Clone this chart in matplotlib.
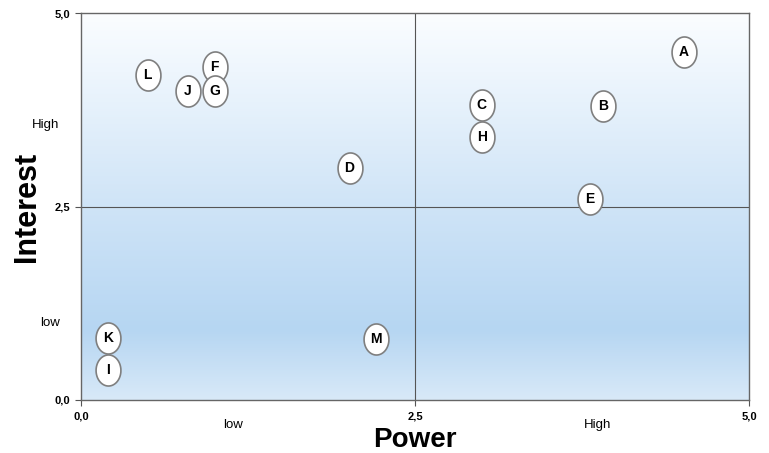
import numpy as np
import matplotlib
matplotlib.use("Agg")
import matplotlib.pyplot as plt
from matplotlib.colors import LinearSegmentedColormap

plt.rcParams["font.family"] = ["Liberation Sans", "DejaVu Sans"]

# stakeholder positions (power, interest)
labels = ["A", "B", "C", "H", "D", "E", "F", "G", "J", "L", "K", "I", "M"]
power = [4.51, 3.91, 3.00, 3.00, 2.01, 3.81, 1.00, 1.00, 0.80, 0.50, 0.20, 0.20, 2.21]
interest = [4.50, 3.80, 3.81, 3.40, 3.00, 2.60, 4.30, 4.00, 4.00, 4.20, 0.80, 0.39, 0.79]

tick_vals = [0.0, 2.5, 5.0]
tick_text = ["0,0", "2,5", "5,0"]
x_words = [(1.14, "low"), (3.87, "High")]
y_words = [(3.55, "High"), (1.0, "low")]


def main():
    fig = plt.figure(figsize=(7.69, 4.53), dpi=100)
    ax = fig.add_axes([0.1053, 0.117, 0.8687, 0.854])

    # background gradient, white on top to light blue near the bottom
    cmap = LinearSegmentedColormap.from_list(
        "bg", [(0.0, "#d8e9f8"), (0.18, "#b6d6f2"), (0.5, "#cfe4f7"),
               (0.85, "#eef6fd"), (1.0, "#fbfdff")])
    grad = np.linspace(0, 1, 256).reshape(-1, 1)
    ax.imshow(grad, extent=[0, 5, 0, 5], origin="lower", aspect="auto",
              cmap=cmap, zorder=0)

    ax.axvline(2.5, color="#555555", lw=0.8, zorder=1)
    ax.axhline(2.5, color="#555555", lw=0.8, zorder=1)

    t = np.linspace(0, 2 * np.pi, 60)
    ell = np.column_stack([0.8 * np.cos(t), np.sin(t)])
    ax.scatter(power, interest, marker=ell, s=500, facecolor="white",
               edgecolor="#7f7f7f", linewidth=1.2, zorder=3)
    for lab, px, py in zip(labels, power, interest):
        ax.text(px, py, lab, ha="center", va="center", fontsize=10,
                fontweight="bold", zorder=4)

    ax.set_xlim(0, 5)
    ax.set_ylim(0, 5)
    ax.set_xticks(tick_vals)
    ax.set_xticklabels(tick_text, fontsize=8, fontweight="bold")
    ax.set_yticks(tick_vals)
    ax.set_yticklabels(tick_text, fontsize=8, fontweight="bold")
    ax.tick_params(length=4, color="#555555", pad=4)
    for s in ax.spines.values():
        s.set_color("#666666")
        s.set_linewidth(1.0)

    for xv, w in x_words:
        ax.text(xv, -0.24, w, ha="center", va="top", fontsize=9.5,
                clip_on=False)
    for yv, w in y_words:
        ax.text(-0.16, yv, w, ha="right", va="center", fontsize=9.5,
                clip_on=False)

    ax.set_xlabel("Power", fontsize=20, fontweight="bold", labelpad=4)
    ax.set_ylabel("Interest", fontsize=22, fontweight="bold", labelpad=9)

    fig.savefig("out.png", dpi=100)
    plt.close(fig)


if __name__ == "__main__":
    main()
